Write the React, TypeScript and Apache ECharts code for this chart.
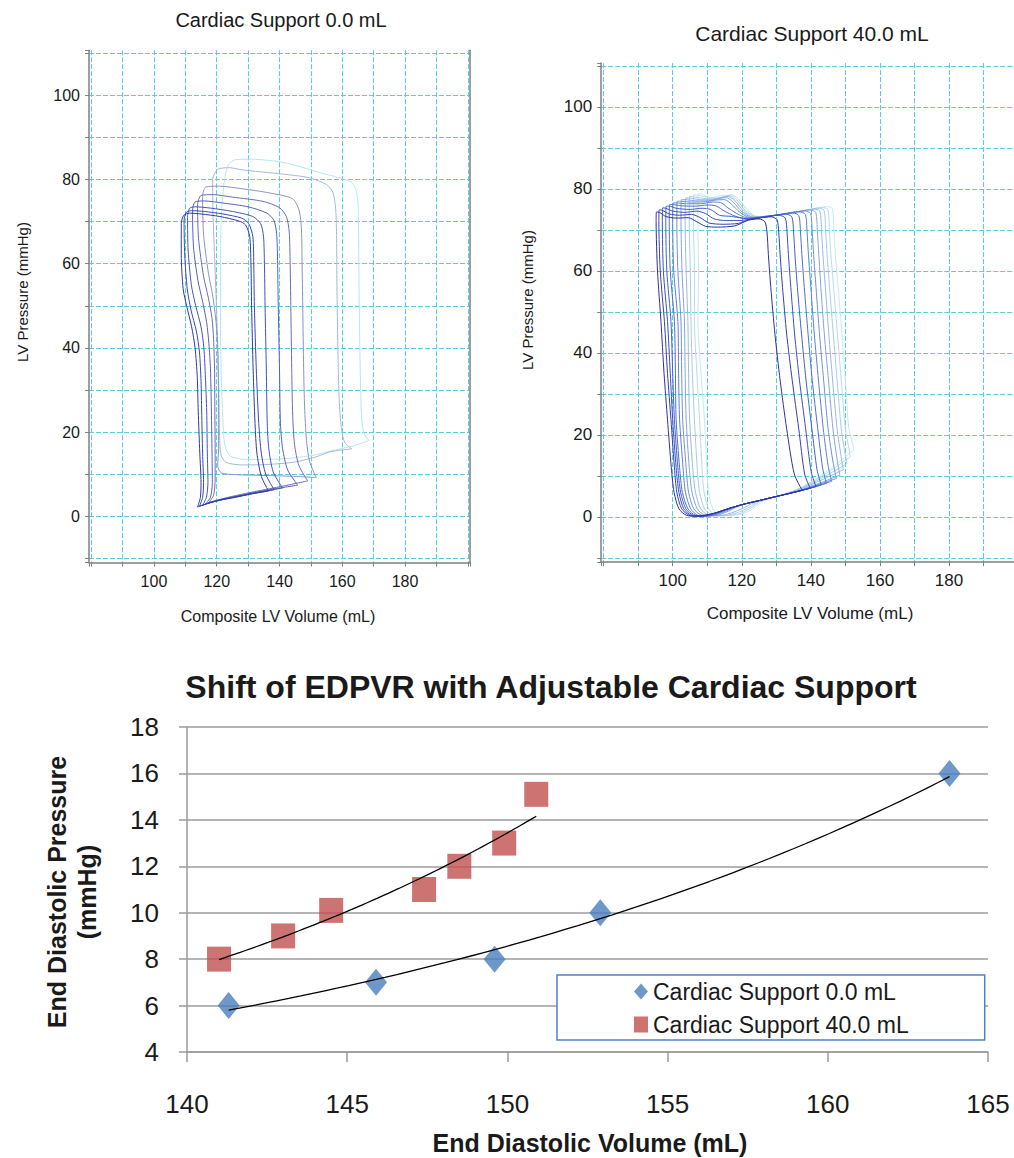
import React, { useEffect, useRef } from 'react';
import * as echarts from 'echarts';

const FONT = '"Liberation Sans", Arial, sans-serif';

// ---------- Top-left: PV loops, Cardiac Support 0.0 mL (volume mL, pressure mmHg) ----------
const TL_LOOP_1 = [[136.5,6.0],[134.2,9.5],[132.8,15],[132.2,22],[131.6,35],[131.1,50],[130.9,60],[130.5,66.5],[129.2,69.2],[127.2,70.1],[121,71.2],[115,71.8],[111.3,72.0],[109.5,71.5],[108.7,69.5],[108.7,62],[109.3,54],[110.4,50],[112,45],[113.1,40],[113.8,33],[114.1,25],[114.6,15],[115,8],[114.8,4.5],[113.9,2.2],[117,3.0],[121,3.8],[126,4.5],[131,5.3],[136.5,6.0]];
const TL_LOOP_2 = [[138.3,6.3],[135.6,10],[134.2,15],[133.4,22],[132.6,35],[132,50],[131.8,60],[131.5,66.5],[130.2,69.5],[128,70.8],[122,71.8],[116,72.4],[112,72.6],[110.3,72.2],[109.6,70.2],[109.8,62],[110.6,54],[111.8,49],[113.5,44],[114.5,39],[115,32],[115.2,25],[115.5,15],[115.8,8],[115.5,4.5],[114.5,2.4],[118,3.3],[123,4.2],[128,4.9],[133,5.6],[138.3,6.3]];
const TL_LOOP_3 = [[141,6.7],[138,10.5],[136.6,16],[136.1,22],[135.8,35],[135.4,50],[135.2,60],[134.9,66.5],[134,69.5],[131.5,71.2],[125,72.4],[118,73.2],[113,73.5],[111.3,73.1],[110.7,71],[110.9,63],[111.9,55],[113.3,50],[115,45],[115.9,40],[116.4,33],[116.8,25],[117,15],[117.2,8],[116.7,4.5],[115.5,2.6],[119,3.5],[125,4.5],[132,5.6],[141,6.7]];
const TL_LOOP_4 = [[145.8,7.4],[142.6,11],[141,16],[140.3,22],[140,35],[139.6,50],[139.4,60],[139.1,67],[138.2,70.3],[136,72],[130,73.5],[122,74.4],[116,74.9],[113,74.6],[112.3,72.5],[112.6,64],[114,56],[115.5,51],[116.8,46],[117.5,41],[118,35],[118.3,25],[118.5,15],[118.6,8],[118,4.5],[116.5,3],[121,3.9],[128,5],[136,6.2],[145.8,7.4]];
const TL_LOOP_5 = [[149,8.4],[146.2,12],[144.8,17],[144.2,24],[143.9,35],[143.6,50],[143.4,60],[143.1,67.5],[142.2,71.2],[140,73.3],[134.7,74.8],[125,75.8],[118.7,76.4],[115,76.2],[113.9,74],[114.2,66],[115.8,57],[117.3,52],[118.5,47],[119,42],[119.3,35],[119.4,25],[119.5,15],[119.5,9],[119,5],[117.5,3.3],[123,4.4],[131,5.7],[140,7.0],[149,8.4]];
const TL_LOOP_6 = [[151.7,9.2],[149.6,13],[148.6,18],[148,26],[147.7,35],[147.4,50],[147.2,60],[147,68],[146.3,72.5],[144.2,75.4],[136.8,76.8],[128,77.8],[120.8,78.4],[116.5,78.2],[115.5,76],[115.8,67],[117.3,58],[118.8,52],[119.8,46],[120.3,40],[120.5,33],[120.6,25],[120.6,16],[120.3,12],[121.5,10.3],[126,9.9],[135,9.7],[144,9.5],[151.7,9.2]];
const TL_LOOP_7 = [[163,16],[160.8,17.5],[159.7,21],[159,28],[158.6,40],[158.3,55],[158.2,66],[157.9,73],[157,77],[155,78.8],[149.5,80.4],[142,81.2],[136.8,81.6],[128,82.3],[124,82.8],[120.3,82.4],[118.7,80],[118.8,72],[119.4,60],[120,48],[120.4,38],[120.7,28],[120.9,19],[121.4,14.5],[123,12.8],[128,12.2],[136,12.3],[145,12.9],[152,14.2],[156,15.3],[159.5,15.7],[163,16]];
const TL_LOOP_8 = [[168.5,18],[167,19.5],[166.2,23],[165.8,32],[165.5,45],[165.3,58],[165.2,68],[165,74.5],[164.3,77.8],[162.8,79.4],[159,80.4],[152,81.8],[145,83.4],[140,84.2],[131.5,84.8],[126,84.7],[123.8,83.6],[122.5,80],[121.5,72],[121.2,60],[121.2,45],[121.5,32],[122,22],[122.7,16.5],[124.5,14.2],[130,13.5],[140,13.6],[150,14.4],[158,15.8],[163,16.6],[168.5,18]];
const TL_LOOPS = [TL_LOOP_1, TL_LOOP_2, TL_LOOP_3, TL_LOOP_4, TL_LOOP_5, TL_LOOP_6, TL_LOOP_7, TL_LOOP_8];
const TL_COLORS = ['#2e3aa6', '#3848b6', '#4454bc', '#5560bc', '#6a6cb8', '#8c92c6', '#a6b8d6', '#b8e6ee'];

// ---------- Top-right: PV loops, Cardiac Support 40.0 mL ----------
const TR_LOOP_1 = [[137.5,6.5],[135.2,10.5],[133,21.5],[131.1,33.4],[129.6,44.6],[128.4,56],[127.7,64],[127.3,69.5],[126.7,72.0],[125,72.7],[122,72.4],[118,71.0],[113,70.7],[109.5,70.9],[107,72.0],[104.5,73.0],[101,72.9],[98,73.3],[96.2,74.3],[95.3,74.4],[95.2,72],[95.6,60],[96.6,47.7],[97.5,35],[98.5,23.7],[99.6,12],[100.4,6],[101.8,2],[104,0.4],[107,0.2],[112,0.9],[116,2.0],[120,3.0],[125,4.0],[130,5.0],[134,5.8],[137.5,6.5]];
const TR_LOOP_2 = [[139.8,7.0],[138.2,10.5],[136.5,21.5],[134.6,33.4],[133,44.6],[131.8,56],[131.1,64],[130.7,69.5],[130.2,72.5],[128.5,73.2],[125,72.9],[122,72.5],[119,71.6],[114.5,71.4],[110.5,71.7],[108,73.0],[105.5,73.8],[102,73.6],[99,73.9],[97,74.8],[96.1,74.9],[96,72],[96.4,60],[97.6,47.7],[98.5,35],[99.5,23.7],[100.5,12],[101.2,6],[102.6,2],[104.8,0.4],[107.6,0.2],[112,0.9],[116,2.0],[120,3.0],[125,4.0],[130,5.0],[135,6.0],[139.8,7.0]];
const TR_LOOP_3 = [[141.5,7.4],[140.1,11],[138.5,21.5],[136.7,33.4],[135.3,44.6],[134.2,56],[133.5,64],[133.1,69.5],[132.6,72.9],[130.8,73.6],[127,73.2],[122,72.6],[119.5,72.3],[115.5,72.3],[112,72.7],[109.5,74.0],[107,74.6],[103.5,74.3],[100,74.6],[98,75.3],[97.1,75.4],[97,72],[97.3,60],[98.5,47.7],[99.3,35],[100,23.7],[101,12],[101.8,6],[103.2,2],[105.4,0.4],[108.2,0.2],[112,0.9],[116,2.0],[120,3.0],[125,4.0],[130,5.0],[135,6.0],[138.5,6.7],[141.5,7.4]];
const TR_LOOP_4 = [[143,7.8],[141.8,11.5],[140.3,21.5],[138.6,33.4],[137.3,44.6],[136.1,56],[135.4,64],[135,69.5],[134.5,73.2],[132.7,73.9],[128,73.4],[122,72.7],[120,72.9],[117,73.3],[113.5,73.6],[111,75.0],[108.5,75.3],[105,75.0],[101,75.3],[99,75.8],[98.1,75.8],[98,72],[98.3,60],[99.5,47.7],[100,35],[100.5,23.7],[101.5,12],[102.3,6],[103.8,2],[106,0.4],[109,0.2],[112.5,1.0],[116,2.0],[120,3.0],[125,4.0],[130,5.0],[135,6.0],[139,6.9],[143,7.8]];
const TR_LOOP_5 = [[144.5,8.2],[143.4,12],[142,21.5],[140.4,33.4],[139.2,44.6],[138.1,56],[137.4,64],[137,69.5],[136.5,73.5],[134.7,74.2],[130,73.6],[125,73.0],[121,72.8],[118,73.4],[115,74.6],[112.5,75.9],[110,76.1],[106.5,75.8],[102.5,75.9],[100,76.2],[99.1,76.2],[99,72],[99.3,60],[100.5,47.7],[100.8,35],[101,23.7],[102,12],[102.8,6],[104.4,2],[106.6,0.4],[109.6,0.2],[113,1.0],[116.5,2.1],[120,3.0],[125,4.0],[130,5.0],[135,6.0],[140,7.1],[144.5,8.2]];
const TR_LOOP_6 = [[146,8.7],[145,12.5],[143.6,21.5],[142.2,33.4],[141,44.6],[140,56],[139.3,64],[138.9,69.5],[138.4,73.8],[136.6,74.5],[132,73.9],[127,73.2],[122,72.9],[119,73.8],[116,75.4],[113.8,76.7],[111.5,76.8],[108,76.4],[104,76.4],[101,76.6],[100.1,76.6],[100,72],[100.3,60],[101.5,47.7],[101.7,35],[102,23.7],[103,12],[103.7,6],[105.2,2],[107.3,0.4],[110.3,0.2],[113.5,1.0],[117,2.2],[120.5,3.1],[125,4.0],[130,5.0],[135,6.0],[140.5,7.3],[146,8.7]];
const TR_LOOP_7 = [[147.4,9.4],[146.5,13],[145,21.5],[143.7,33.4],[142.5,44.6],[141.5,56],[140.8,64],[140.4,69.5],[139.9,74.0],[138.1,74.7],[133,74.0],[128,73.4],[122.5,73.0],[119.5,74.3],[117,76.3],[115,77.4],[112.5,77.3],[109.5,76.9],[105.5,76.8],[102.3,77.0],[101.3,77.0],[101.2,72],[101.5,60],[102.4,47.7],[102.6,35],[102.9,23.7],[103.9,12],[104.6,6],[106.1,2],[108.2,0.5],[111.2,0.3],[114.5,1.1],[118,2.4],[121,3.2],[125,4.0],[130,5.0],[135,6.0],[141,7.6],[147.4,9.4]];
const TR_LOOP_8 = [[148.4,10.2],[147.7,13.5],[146.4,21.5],[145.1,33.4],[143.9,44.6],[142.9,56],[142.3,64],[141.9,69.5],[141.4,74.3],[139.6,74.9],[134,74.1],[129,73.5],[123,73.1],[120,74.5],[117.5,76.8],[115.5,77.9],[113,77.6],[110.5,77.1],[107,77.1],[103.5,77.4],[102.5,77.4],[102.4,72],[102.7,60],[103.4,47.7],[103.6,35],[103.9,23.7],[104.8,12],[105.6,6],[107.1,2],[109.2,0.5],[112.3,0.3],[115.5,1.2],[119,2.6],[122,3.4],[126,4.2],[131,5.2],[136,6.3],[142,8.1],[148.4,10.2]];
const TR_LOOP_9 = [[149.4,11.5],[148.8,14.5],[147.6,21.5],[146.3,33.4],[145.2,44.6],[144.2,56],[143.5,64],[143.1,69.5],[142.6,74.6],[140.8,75.1],[135,74.2],[130,73.6],[123.5,73.1],[120.5,74.6],[118,77.2],[116,78.2],[113.5,77.8],[111,77.4],[108,77.4],[104.7,77.8],[103.7,77.8],[103.6,72],[103.9,60],[104.4,47.7],[104.6,35],[104.9,23.7],[105.8,12],[106.6,6],[108.1,2],[110.2,0.5],[113.4,0.3],[117,1.0],[120.5,2.2],[123.5,3.5],[127,4.4],[132,5.4],[137,6.8],[143,9.0],[149.4,11.5]];
const TR_LOOP_10 = [[150.4,13.0],[149.9,15.5],[148.8,21.5],[147.6,33.4],[146.5,44.6],[145.4,56],[144.7,64],[144.3,69.5],[143.8,74.8],[142,75.3],[136,74.3],[131,73.7],[124,73.2],[121,74.8],[118.5,77.4],[116.5,78.4],[114.5,78.0],[112,77.6],[109,77.7],[105.9,78.1],[104.9,78.2],[104.8,72],[105.1,60],[105.3,47.7],[105.7,35],[106.3,23.7],[107.1,12],[107.8,6],[109.2,2],[111.3,0.5],[114.5,0.3],[118.5,1.0],[122,2.3],[124.5,3.6],[128,4.6],[133,5.7],[138,7.3],[144,9.9],[150.4,13.0]];
const TR_LOOP_11 = [[151.4,14.7],[151,16.8],[150,21.5],[148.8,33.4],[147.7,44.6],[146.6,56],[145.8,64],[145.4,69.5],[144.9,75.0],[143.1,75.5],[137,74.4],[132,73.8],[124.5,73.2],[121.5,75.0],[119,77.6],[117,78.6],[115,78.2],[113,77.8],[110,78.0],[107.1,78.5],[106.1,78.6],[106,72],[106.3,60],[106.3,47.7],[107,35],[107.8,23.7],[108.5,12],[109.1,6],[110.4,2],[112.4,0.5],[115.5,0.3],[120,1.0],[123,2.4],[125.5,3.8],[129,4.8],[134,6.0],[139,7.9],[145,10.9],[151.4,14.7]];
const TR_LOOP_12 = [[152.4,16.3],[152.1,18],[151,21.5],[150,33.4],[149,44.6],[147.9,56],[147.1,64],[146.7,69.5],[146.2,75.2],[144.4,75.7],[138,74.5],[133,73.9],[125,73.3],[121,74.5],[118,77],[115,78.5],[113,78.2],[110.5,77.8],[108.5,78.8],[107.4,78.9],[107.3,72],[107.5,60],[107.3,47.7],[108.2,35],[109.2,23.7],[109.9,12],[110.4,6],[111.6,2],[113.5,0.5],[116.5,0.3],[121,1.0],[124,2.5],[126.5,4.0],[130,5.0],[135,6.4],[140,8.5],[146,12],[152.4,16.3]];
const TR_LOOPS = [TR_LOOP_1, TR_LOOP_2, TR_LOOP_3, TR_LOOP_4, TR_LOOP_5, TR_LOOP_6, TR_LOOP_7, TR_LOOP_8, TR_LOOP_9, TR_LOOP_10, TR_LOOP_11, TR_LOOP_12];
const TR_COLORS = ['#30309a', '#3440b0', '#3a4fc4', '#4260cc', '#4e6ed0', '#5e7ed4', '#7090d8', '#84a4dc', '#98bae2', '#a8cce6', '#b6dcec', '#c4eaf2'];

// ---------- Bottom: EDPVR ----------
const EDV_0 = [141.3, 145.9, 149.6, 152.9, 163.8];
const EDP_0 = [6, 7, 8, 10, 16];
const EDV_40 = [141.0, 143.0, 144.5, 147.4, 148.5, 149.9, 150.9];
const EDP_40 = [8, 9, 10.1, 11, 12, 13, 15.1];
const NAME_0 = 'Cardiac Support 0.0 mL';
const NAME_40 = 'Cardiac Support 40.0 mL';
const X_TICKS_BOTTOM = [140, 145, 150, 155, 160, 165];
const Y_TICKS_BOTTOM = [4, 6, 8, 10, 12, 14, 16, 18];

// Exponential least-squares trendline (as a spreadsheet's "exponential" trendline)
function expTrend(xs: number[], ys: number[], n = 60): number[][] {
  const ly = ys.map((y) => Math.log(y));
  const mx = xs.reduce((a, b) => a + b, 0) / xs.length;
  const my = ly.reduce((a, b) => a + b, 0) / ly.length;
  let sxy = 0, sxx = 0;
  xs.forEach((x, i) => { sxy += (x - mx) * (ly[i] - my); sxx += (x - mx) * (x - mx); });
  const b = sxy / sxx;
  const a = my - b * mx;
  const lo = Math.min(...xs), hi = Math.max(...xs);
  const out: number[][] = [];
  for (let i = 0; i <= n; i++) {
    const x = lo + ((hi - lo) * i) / n;
    out.push([x, Math.exp(a + b * x)]);
  }
  return out;
}

const AXIS_GRAY = '#7f7f7f';
const GRID_CYAN = '#58d0da';

function pvXAxis(gridIndex: number, fontSize: number, margin: number) {
  return {
    type: 'value', gridIndex, min: 79.3, max: 200.7, minInterval: 10, maxInterval: 10, splitNumber: 12,
    axisLine: { show: true, onZero: false, lineStyle: { color: AXIS_GRAY, width: 1.5 } },
    axisTick: { show: true, length: 4, lineStyle: { color: AXIS_GRAY } },
    axisLabel: {
      color: '#1a1a1a', fontSize, fontFamily: FONT, margin,
      formatter: (v: number) => (Math.abs(v % 20) < 1e-6 && v >= 100 && v <= 180 ? String(v) : ''),
    },
    splitLine: { show: true, showMinLine: false, showMaxLine: false, lineStyle: { color: GRID_CYAN, type: [5, 2], width: 1 } },
  };
}

function pvYAxis(gridIndex: number, fontSize: number, margin: number) {
  return {
    type: 'value', gridIndex, min: -11, max: 110.7, minInterval: 10, maxInterval: 10, splitNumber: 12,
    axisLine: { show: true, onZero: false, lineStyle: { color: AXIS_GRAY, width: 1.5 } },
    axisTick: { show: true, length: 4, lineStyle: { color: AXIS_GRAY } },
    axisLabel: {
      color: '#1a1a1a', fontSize, fontFamily: FONT, margin,
      formatter: (v: number) => (Math.abs(v % 20) < 1e-6 && v >= 0 && v <= 100 ? String(v) : ''),
    },
    splitLine: { show: true, showMinLine: false, showMaxLine: false, lineStyle: { color: GRID_CYAN, type: [5, 2], width: 1 } },
  };
}

function txt(text: string, x: number, y: number, size: number, bold = false, rotate = false) {
  return {
    type: 'text', x, y, rotation: rotate ? Math.PI / 2 : 0, silent: true,
    style: {
      text, fill: '#1a1a1a',
      font: `${bold ? 'bold ' : ''}${size}px "Liberation Sans", Arial, sans-serif`,
      align: 'center', verticalAlign: 'middle', textAlign: 'center', textVerticalAlign: 'middle',
    },
  };
}

function buildOption() {
  const loopSeries = (loops: number[][][], colors: string[], axisIndex: number) =>
    loops.map((pts, i) => ({
      type: 'line', xAxisIndex: axisIndex, yAxisIndex: axisIndex, data: pts,
      showSymbol: false, symbol: 'none', smooth: 0.25, silent: true,
      lineStyle: { width: 1, color: colors[i] }, z: 20 - i,
    }));

  return {
    animation: false,
    backgroundColor: '#ffffff',
    grid: [
      { left: 89, top: 50.2, width: 381, height: 512.4, outerBoundsMode: 'none' },
      { left: 601.2, top: 63.1, width: 419.3, height: 499, outerBoundsMode: 'none' },
      { left: 187, top: 727, width: 801, height: 325, outerBoundsMode: 'none' },
    ],
    xAxis: [
      pvXAxis(0, 16, 11),
      pvXAxis(1, 17, 10),
      {
        type: 'value', gridIndex: 2, min: X_TICKS_BOTTOM[0], max: X_TICKS_BOTTOM[X_TICKS_BOTTOM.length - 1], interval: 5,
        axisLine: { show: true, onZero: false, lineStyle: { color: '#9a9a9a', width: 1.5 } },
        axisTick: { show: true, length: 10, lineStyle: { color: '#9a9a9a', width: 1.5 } },
        axisLabel: { color: '#1a1a1a', fontSize: 26, fontFamily: FONT, margin: 39 },
        splitLine: { show: false },
      },
    ],
    yAxis: [
      pvYAxis(0, 16, 9),
      pvYAxis(1, 17, 9),
      {
        type: 'value', gridIndex: 2, min: Y_TICKS_BOTTOM[0], max: Y_TICKS_BOTTOM[Y_TICKS_BOTTOM.length - 1], interval: 2,
        axisLine: { show: true, lineStyle: { color: '#9a9a9a', width: 1.5 } },
        axisTick: { show: true, length: 8, lineStyle: { color: '#9a9a9a', width: 1.5 } },
        axisLabel: { color: '#1a1a1a', fontSize: 26, fontFamily: FONT, margin: 28 },
        splitLine: { show: true, lineStyle: { color: '#9c9c9c', width: 1.5 } },
      },
      {
        type: 'value', gridIndex: 0, position: 'right', min: -11, max: 110.7,
        axisLine: { show: true, lineStyle: { color: AXIS_GRAY, width: 1.5 } },
        axisTick: { show: false }, axisLabel: { show: false }, splitLine: { show: false },
      },
    ],
    legend: {
      data: [{ name: NAME_0, icon: 'diamond' }, { name: NAME_40, icon: 'rect' }],
      orient: 'vertical', left: 557, top: 975,
      padding: [5, 76, 4, 77], itemWidth: 14, itemHeight: 16, itemGap: 10,
      borderColor: '#4f81bd', borderWidth: 1.5, backgroundColor: '#ffffff',
      textStyle: { fontSize: 23, fontFamily: FONT, color: '#1a1a1a' },
      selectedMode: false,
    },
    graphic: [
      txt('Cardiac Support 0.0 mL', 281, 20, 20),
      txt('Cardiac Support 40.0 mL', 812, 33, 21),
      txt('Composite LV Volume (mL)', 278, 616, 16),
      txt('Composite LV Volume (mL)', 810, 613, 17),
      txt('LV Pressure (mmHg)', 22, 292, 15, false, true),
      txt('LV Pressure (mmHg)', 527, 300, 15, false, true),
      txt('Shift of EDPVR with Adjustable Cardiac Support', 551, 687, 32, true),
      txt('End Diastolic Volume (mL)', 590, 1143, 25, true),
      txt('End Diastolic Pressure', 57, 892, 25, true, true),
      txt('(mmHg)', 87, 892, 25, true, true),
    ],
    series: [
      ...loopSeries(TL_LOOPS, TL_COLORS, 0),
      ...loopSeries(TR_LOOPS, TR_COLORS, 1),
      {
        name: NAME_0, type: 'scatter', xAxisIndex: 2, yAxisIndex: 2,
        data: EDV_0.map((x, i) => [x, EDP_0[i]]),
        symbol: 'diamond', symbolSize: [22, 27], itemStyle: { color: '#4a7ebb' }, z: 3,
      },
      {
        name: NAME_40, type: 'scatter', xAxisIndex: 2, yAxisIndex: 2,
        data: EDV_40.map((x, i) => [x, EDP_40[i]]),
        symbol: 'rect', symbolSize: [24, 25], itemStyle: { color: '#c0504d' }, z: 3,
      },
      {
        name: 'trend0', type: 'line', xAxisIndex: 2, yAxisIndex: 2, data: expTrend(EDV_0, EDP_0),
        showSymbol: false, symbol: 'none', silent: true, lineStyle: { color: '#000000', width: 1.3 }, z: 5,
      },
      {
        name: 'trend40', type: 'line', xAxisIndex: 2, yAxisIndex: 2, data: expTrend(EDV_40, EDP_40),
        showSymbol: false, symbol: 'none', silent: true, lineStyle: { color: '#000000', width: 1.3 }, z: 5,
      },
    ],
  };
}

export default function App() {
  const ref = useRef<HTMLDivElement>(null);
  useEffect(() => {
    if (!ref.current) return;
    const chart = echarts.init(ref.current, null, { renderer: 'svg' });
    chart.setOption(buildOption() as any);
    return () => chart.dispose();
  }, []);
  return (
    <div
      ref={ref}
      style={{ position: 'absolute', left: 0, top: 0, width: 1014, height: 1158, background: '#ffffff' }}
    />
  );
}
